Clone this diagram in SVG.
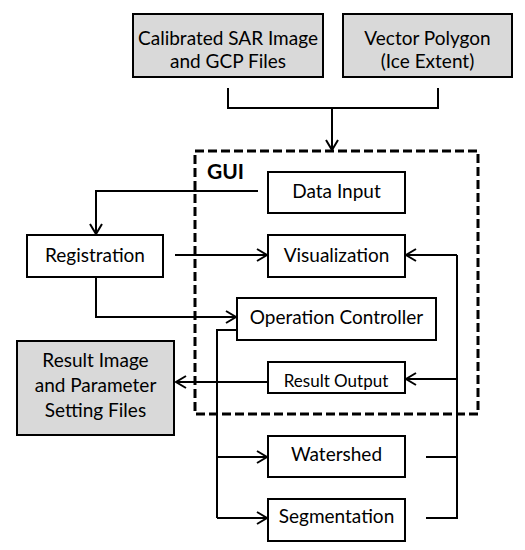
<svg xmlns="http://www.w3.org/2000/svg" width="525" height="550" viewBox="0 0 525 550">
<style>
.box{fill:#fff;stroke:#000;stroke-width:2}
.gray{fill:#d9d9d9;stroke:#000;stroke-width:2}
.t{font-family:Lato,"Liberation Sans",sans-serif;font-size:19px;fill:#000;text-anchor:middle}
.s{font-size:17px}
.ln{fill:none;stroke:#000;stroke-width:2}
.arr{fill:none;stroke:#000;stroke-width:2;marker-end:url(#a)}
</style>
<defs>
<marker id="a" viewBox="-12 -8 14 16" refX="0" refY="0" markerWidth="14" markerHeight="16" orient="auto" markerUnits="userSpaceOnUse">
<path d="M-10,-6 L0,0 L-10,6" fill="none" stroke="#000" stroke-width="2"/>
</marker>
</defs>
<rect width="525" height="550" fill="#fff"/>
<g id="gui">
<rect x="195" y="151" width="283" height="263" fill="none" stroke="#000" stroke-width="3" stroke-dasharray="9,4"/>
<text x="207" y="179" style="font-family:Lato,'Liberation Sans',sans-serif;font-size:21px;font-weight:bold">GUI</text>
</g>
<g id="connectors">
<path class="ln" d="M228,88 V108 H438 V88"/>
<path class="arr" d="M332,108 V150"/>
<path class="arr" d="M258,191 H96 V234"/>
<path class="arr" d="M175,255 H267"/>
<path class="arr" d="M96,277 V317 H236"/>
<path class="ln" d="M237,330 H217 V518"/>
<path class="arr" d="M217,457 H267"/>
<path class="arr" d="M217,518 H267"/>
<path class="arr" d="M268,382 H176"/>
<path class="ln" d="M426,457 H457"/>
<path class="ln" d="M426,518 H457 V255"/>
<path class="arr" d="M457,255 H406"/>
<path class="arr" d="M457,379 H406"/>
</g>
<g id="sar">
<rect class="gray" x="133" y="14" width="190" height="63"/>
<text class="t" x="228" y="45">Calibrated SAR Image</text>
<text class="t" x="228" y="68">and GCP Files</text>
</g>
<g id="vector">
<rect class="gray" x="343" y="14" width="169" height="63"/>
<text class="t" x="427.5" y="45">Vector Polygon</text>
<text class="t" x="427.5" y="68">(Ice Extent)</text>
</g>
<g id="datainput">
<rect class="box" x="268" y="172" width="137" height="41"/>
<text class="t" x="336.5" y="198">Data Input</text>
</g>
<g id="visualization">
<rect class="box" x="268" y="235" width="137" height="42"/>
<text class="t" x="336.5" y="262">Visualization</text>
</g>
<g id="registration">
<rect class="box" x="27" y="235" width="136" height="42"/>
<text class="t" x="95" y="262">Registration</text>
</g>
<g id="opcontroller">
<rect class="box" x="237" y="298" width="199" height="42"/>
<text class="t" x="336.5" y="324">Operation Controller</text>
</g>
<g id="resultoutput">
<rect class="box" x="268" y="362" width="137" height="31"/>
<text class="t s" x="336" y="387">Result Output</text>
</g>
<g id="resultimage">
<rect class="gray" x="17" y="341" width="157" height="94"/>
<text class="t" x="95.5" y="367">Result Image</text>
<text class="t" x="95.5" y="392">and Parameter</text>
<text class="t" x="95.5" y="417">Setting Files</text>
</g>
<g id="watershed">
<rect class="box" x="268" y="436" width="137" height="41"/>
<text class="t" x="336.5" y="461">Watershed</text>
</g>
<g id="segmentation">
<rect class="box" x="268" y="499" width="137" height="42"/>
<text class="t" x="336.5" y="523">Segmentation</text>
</g>
</svg>
